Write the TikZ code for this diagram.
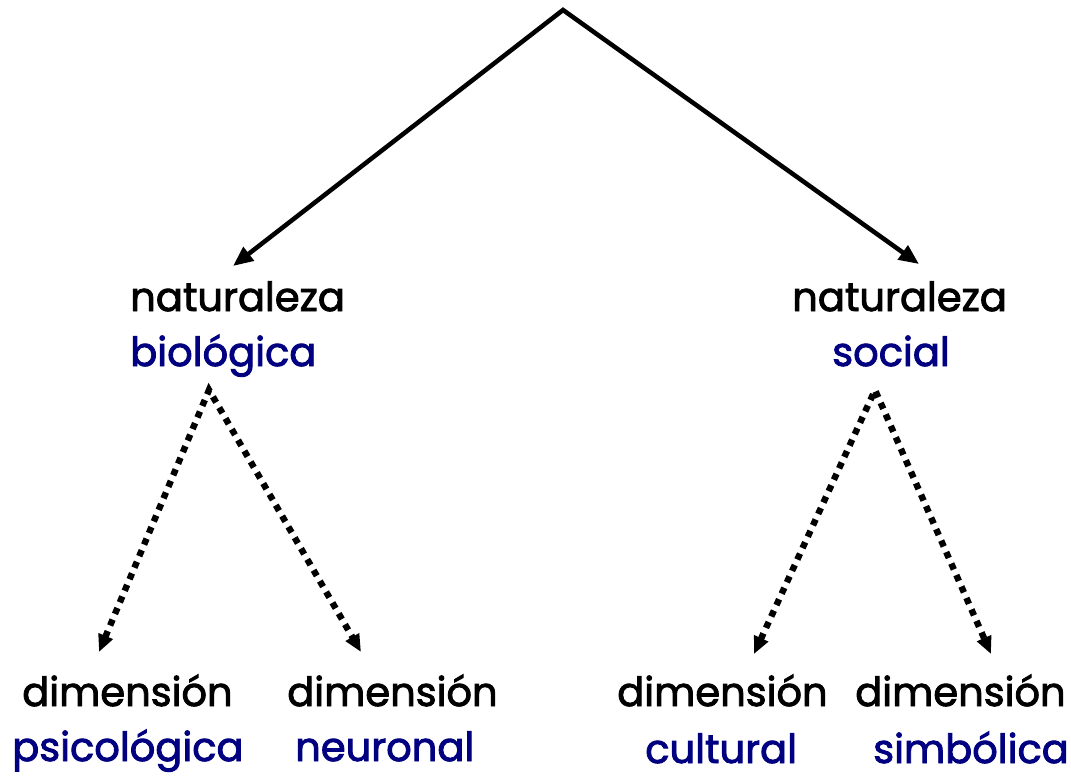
\documentclass[tikz,border=0pt]{standalone}
\usepackage{fontspec}
\setmainfont{Poppins}[UprightFeatures={FakeBold=2.2}]
\usetikzlibrary{arrows.meta}
\definecolor{navy}{RGB}{0,0,128}
\begin{document}
\begin{tikzpicture}[x=0.75pt,y=-0.75pt,
  blk/.style={font=\fontsize{30}{30}\selectfont, text=black, inner sep=0pt, anchor=base west},
  blu/.style={blk, text=navy},
  solidarrow/.style={line width=3.4pt, line join=miter, {Triangle[length=15pt,width=12.5pt]}-{Triangle[length=15pt,width=12.5pt]}},
  dotarrow/.style={line width=4.8pt, dash pattern=on 4.8pt off 4.6pt, {Triangle[length=13pt,width=11pt]}-{Triangle[length=13pt,width=11pt]}}]
\useasboundingbox (0,0) rectangle (1071,775);
% labels
\node[blk] (natL) at (130,311) {naturaleza};
\node[blu] (bioL) at (130,366) {biológica};
\node[blk] (natR) at (792,311) {naturaleza};
\node[blu] (socR) at (832,366) {social};
\node[blk] (dimA) at (22,706) {dimensión};
\node[blu] (psi)  at (12,761) {psicológica};
\node[blk] (dimB) at (287,706) {dimensión};
\node[blu] (neu)  at (295,761) {neuronal};
\node[blk] (dimC) at (617,706) {dimensión};
\node[blu] (cul)  at (645,763) {cultural};
\node[blk] (dimD) at (855,706) {dimensión};
\node[blu] (sim)  at (873,763) {simbólica};
% connector points
\coordinate (top) at (563,10);
\coordinate (tipL) at (233,266);
\coordinate (tipR) at (919,264);
\coordinate (srcL) at (209,390);
\coordinate (tipA) at (99,652);
\coordinate (tipB) at (361,652);
\coordinate (srcR) at (875,390);
\coordinate (tipC) at (754,654);
\coordinate (tipD) at (991,654);
% connectors
\draw[solidarrow] (tipL) -- (top) -- (tipR);
\draw[dotarrow] (tipA) -- (srcL) -- (tipB);
\draw[dotarrow] (tipC) -- (srcR) -- (tipD);
\end{tikzpicture}
\end{document}
